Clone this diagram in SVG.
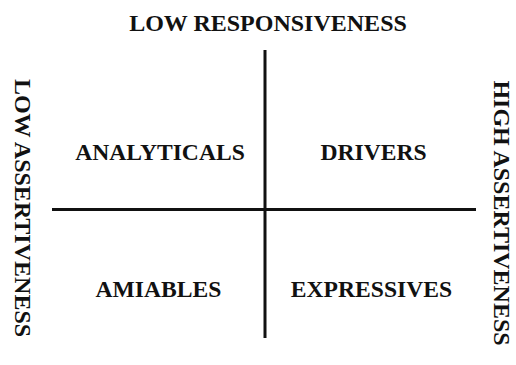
<svg xmlns="http://www.w3.org/2000/svg" width="516" height="365" viewBox="0 0 516 365">
<style>
text{font-family:"Liberation Serif","Times New Roman",serif;font-weight:bold;fill:#111;text-anchor:middle}
.t{font-size:24px}
.q{font-size:23.6px}
.ax line{stroke:#111;stroke-width:3}
</style>
<rect width="516" height="365" fill="#fff"/>
<g id="connectors" class="ax">
<line x1="265" y1="50" x2="265" y2="338"/>
<line x1="52" y1="209.5" x2="476" y2="209.5"/>
</g>
<g id="title"><text class="t" x="268" y="30.5">LOW RESPONSIVENESS</text></g>
<g id="low-assert"><text class="t" transform="translate(15 208) rotate(90)">LOW ASSERTIVENESS</text></g>
<g id="high-assert"><text class="t" transform="translate(494 213) rotate(90)">HIGH ASSERTIVENESS</text></g>
<g id="analyticals"><text class="q" x="160" y="160">ANALYTICALS</text></g>
<g id="drivers"><text class="q" x="373.5" y="160">DRIVERS</text></g>
<g id="amiables"><text class="q" x="158.5" y="297">AMIABLES</text></g>
<g id="expressives"><text class="q" x="371.5" y="297">EXPRESSIVES</text></g>
</svg>
